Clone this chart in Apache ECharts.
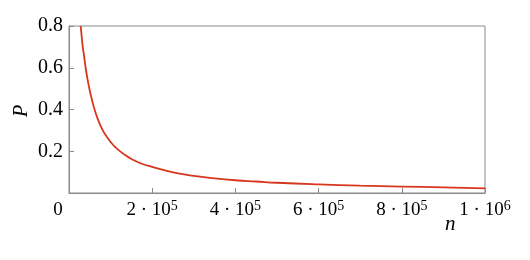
<!DOCTYPE html>
<html>
<head>
<meta charset="utf-8">
<script src="https://cdn.jsdelivr.net/npm/echarts@6/dist/echarts.min.js"></script>
<style>html,body{margin:0;padding:0;background:#fff}#c{width:530px;height:260px}</style>
</head>
<body>
<div id="c"></div>
<script>
// data
var nValues = [28000, 30000, 33000, 36000, 40000, 45000, 50000, 56000, 63000, 70000, 80000, 90000, 100000, 110000, 120000, 135000, 150000, 175000, 200000, 250000, 300000, 350000, 400000, 450000, 500000, 600000, 700000, 800000, 900000, 1000000];
var pValues = [0.8, 0.76, 0.70, 0.66, 0.6, 0.54, 0.49, 0.44, 0.39, 0.35, 0.305, 0.272, 0.245, 0.222, 0.204, 0.182, 0.163, 0.14, 0.125, 0.099, 0.082, 0.07, 0.061, 0.055, 0.049, 0.041, 0.035, 0.031, 0.027, 0.022];
var yTicks = [0, 0.2, 0.4, 0.6, 0.8];
var xTicks = [0, 200000, 400000, 600000, 800000, 1000000];

var serif = 'Liberation Serif';
var axisGray = '#8a8a8a';
var chart = echarts.init(document.getElementById('c'));
chart.setOption({
  animation: false,
  textStyle: {fontFamily: serif},
  grid: {left: 69, right: 45, top: 26, bottom: 67, show: true, borderColor: axisGray, borderWidth: 1},
  xAxis: {
    type: 'value', min: xTicks[0], max: xTicks[xTicks.length - 1], interval: xTicks[1] - xTicks[0],
    axisLine: {show: true, lineStyle: {color: axisGray}},
    axisTick: {show: true, inside: true, length: 5, lineStyle: {color: axisGray}},
    splitLine: {show: false},
    axisLabel: {
      margin: 6, color: '#000', fontFamily: serif, fontSize: 19,
      formatter: function (v) {
        if (v === 0) return '{z|0}';
        if (v === 1000000) return '{a|1 · 10}{s|6}';
        return '{a|' + (v / 100000) + ' · 10}{s|5}';
      },
      rich: {
        a: {fontFamily: serif, fontSize: 19, color: '#000', lineHeight: 22},
        s: {fontFamily: serif, fontSize: 14, color: '#000', lineHeight: 10, verticalAlign: 'top'},
        z: {fontFamily: serif, fontSize: 19, color: '#000', lineHeight: 22, padding: [0, 22, 0, 0]}
      }
    }
  },
  yAxis: {
    type: 'value', min: yTicks[0], max: yTicks[yTicks.length - 1], interval: yTicks[1] - yTicks[0],
    axisLine: {show: true, lineStyle: {color: axisGray}},
    axisTick: {show: true, inside: true, length: 5, lineStyle: {color: axisGray}},
    splitLine: {show: false},
    axisLabel: {
      margin: 6, color: '#000', fontFamily: serif, fontSize: 20,
      formatter: function (v) { return v === 0 ? '' : v.toFixed(1); }
    }
  },
  graphic: [
    {type: 'text', left: 445, top: 214, style: {text: 'n', fontFamily: serif, fontStyle: 'italic', fontSize: 21, fill: '#000'}},
    {type: 'text', x: 12, y: 117, rotation: Math.PI / 2, style: {text: 'P', fontFamily: serif, fontStyle: 'italic', fontSize: 20, fill: '#000'}}
  ],
  series: [{
    type: 'line', smooth: 0.5, showSymbol: false,
    lineStyle: {color: '#d8361d', width: 1.8},
    data: nValues.map(function (n, i) { return [n, pValues[i]]; })
  }]
});
</script>
</body>
</html>
